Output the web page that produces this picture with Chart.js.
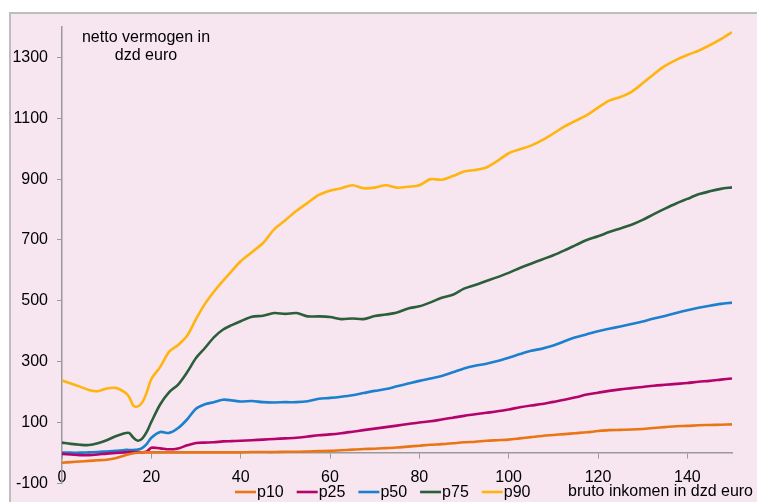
<!DOCTYPE html>
<html>
<head>
<meta charset="utf-8">
<script src="https://cdn.jsdelivr.net/npm/chart.js@4.4.1/dist/chart.umd.min.js"></script>
<style>
  html, body { margin: 0; padding: 0; background: #ffffff; }
  #frame { position: absolute; left: 9px; top: 12px; width: 760px; height: 500px;
           background: #F7E6F0; border-top: 2px solid #BDBDBD; border-left: 2px solid #BDBDBD; }
  #wrap { position: absolute; left: 0; top: 0; width: 757px; height: 502px; }
</style>
</head>
<body>
<div id="frame"></div>
<div id="wrap"><canvas id="c" width="757" height="502"></canvas></div>
<script>
const incomes = [0,2,4,6,8,10,12,14,15,16,17,18,19,20,22,24,26,28,30,32,34,36,38,40,
  42.5,45,47.5,50,52.5,55,57.5,60,62.5,65,67.5,70,72.5,75,77.5,80,82.5,85,87.5,90,92.5,95,97.5,
  100,102.5,105,107.5,110,112.5,115,117.5,120,122.5,125,127.5,130,132.5,135,137.5,140,142.5,145,147.5,150];

const p10 = [-32,-30,-28,-26,-24,-22,-17,-8,-4,-1,1,2,2,2,2,2,2,2,2,2,2,2,2,2,
  3,3,3,4,4,5,6,7,9,11,13,14,16,18,21,24,27,29,32,35,37,40,42,
  44,48,52,56,59,62,65,68,72,75,76,77,79,82,85,88,89,91,92,93,94];

const p25 = [-3,-5,-7,-7,-5,-2,0,2,3,3,2,2,5,17,15,12,15,25,33,34,35,38,39,40,
  42,44,46,48,50,54,58,61,65,70,75,80,85,90,95,100,104,110,116,122,127,132,137,
  143,150,156,161,168,175,183,192,198,204,209,213,217,221,224,227,230,234,237,241,245];

const p50 = [1,1,1,2,3,5,7,10,10,10,11,17,30,50,69,66,82,110,145,160,167,175,173,169,
  171,167,166,167,167,170,178,181,185,190,197,204,210,219,228,237,245,253,265,278,287,293,302,
  313,325,336,343,353,367,380,390,400,408,416,424,432,442,450,460,469,477,484,490,494];

const p75 = [34,30,27,26,32,42,55,65,66,50,40,48,70,102,160,200,225,265,312,345,380,405,420,433,
  448,451,460,457,460,449,449,447,440,442,440,450,455,462,475,482,495,510,520,540,552,565,578,
  592,608,622,636,650,666,683,700,712,726,738,750,766,785,803,820,835,850,860,868,873];

const p90 = [238,228,218,207,203,212,214,200,185,155,153,167,200,243,283,333,355,385,440,490,530,565,598,630,
  660,690,735,765,796,822,848,862,870,880,870,872,880,872,875,880,900,898,910,925,930,938,960,
  985,998,1010,1028,1050,1073,1092,1110,1135,1158,1170,1187,1215,1245,1272,1292,1308,1322,1340,1360,1383];

const seriesNames = ['p10','p25','p50','p75','p90'];
const seriesColors = ['#EA7514','#B5036C','#1C80CE','#2B5E3B','#FFB410'];
const seriesValues = [p10, p25, p50, p75, p90];

const yTicks = [-100,100,300,500,700,900,1100,1300];
const xTicks = [0,20,40,60,80,100,120,140];

const yTitleLines = ['netto vermogen in', 'dzd euro'];
const xTitle = 'bruto inkomen in dzd euro';

const FONT = 'Liberation Sans, Arial, sans-serif';

const datasets = seriesNames.map((name, i) => ({
  label: name,
  data: incomes.map((x, j) => ({ x: x, y: seriesValues[i][j] })),
  borderColor: seriesColors[i],
  backgroundColor: seriesColors[i],
  borderWidth: 2.6,
  pointRadius: 0,
  tension: 0.3,
  fill: false
}));

const textPlugin = {
  id: 'texts',
  afterDraw(chart) {
    const ctx = chart.ctx;
    ctx.save();
    ctx.fillStyle = '#000';
    ctx.font = '16px ' + FONT;
    ctx.textAlign = 'center';
    ctx.textBaseline = 'middle';
    ctx.fillText(yTitleLines[0], 146, 38);
    ctx.fillText(yTitleLines[1], 146, 56);
    ctx.textAlign = 'right';
    ctx.fillText(xTitle, 753, 492);
    ctx.textAlign = 'left';
    let x = 235;
    const y = 492;
    chart.data.datasets.forEach(ds => {
      ctx.strokeStyle = ds.borderColor;
      ctx.lineWidth = 2.6;
      ctx.beginPath();
      ctx.moveTo(x, y);
      ctx.lineTo(x + 21, y);
      ctx.stroke();
      ctx.fillStyle = '#000';
      ctx.fillText(ds.label, x + 22, y + 1);
      x += 22 + ctx.measureText(ds.label).width + 13;
    });
    ctx.restore();
  }
};

new Chart(document.getElementById('c'), {
  type: 'line',
  data: { datasets },
  options: {
    responsive: false,
    animation: false,
    layout: { padding: { left: 0, top: 27, right: 25, bottom: 12 } },
    plugins: { legend: { display: false }, tooltip: { enabled: false } },
    scales: {
      x: {
        type: 'linear',
        position: { y: 0 },
        min: 0, max: 150,
        afterBuildTicks: s => { s.ticks = xTicks.map(v => ({ value: v })); },
        grid: { drawOnChartArea: false, drawTicks: true, tickLength: 5, color: '#9A9A9A' },
        border: { display: true, color: '#9A9A9A', width: 1.5 },
        ticks: { color: '#000', font: { family: FONT, size: 16 }, padding: 10, maxRotation: 0, autoSkip: false,
                 callback: v => String(v) }
      },
      y: {
        type: 'linear',
        position: 'left',
        min: -100, max: 1400,
        afterBuildTicks: s => { s.ticks = yTicks.map(v => ({ value: v })); },
        afterFit: s => { s.width = 62; },
        grid: { drawOnChartArea: false, drawTicks: true, tickLength: 5, color: '#9A9A9A' },
        border: { display: true, color: '#9A9A9A', width: 1.5 },
        ticks: { color: '#000', font: { family: FONT, size: 16 }, padding: 9, autoSkip: false,
                 callback: v => String(v) }
      }
    }
  },
  plugins: [textPlugin]
});
</script>
</body>
</html>
